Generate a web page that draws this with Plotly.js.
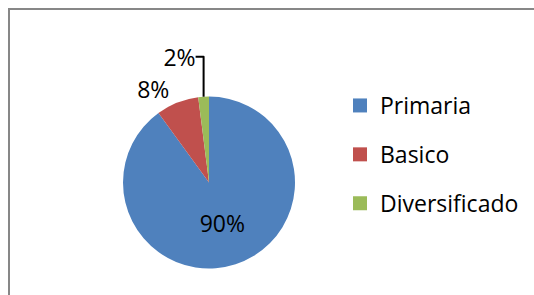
<!DOCTYPE html>
<html>
<head>
<meta charset="utf-8">
<script src="https://cdn.plot.ly/plotly-3.0.1.min.js"></script>
<style>html,body{margin:0;padding:0;background:#fff;}#chart{width:534px;height:295px;}</style>
</head>
<body>
<div id="chart"></div>
<script>
const categories = ["Primaria", "Basico", "Diversificado"];
const values = [90, 8, 2];
const colors = ["#4F81BD", "#C0504D", "#9BBB59"];
const textPositions = ["inside", "outside", "outside"];

const font = {family: "Open Sans, sans-serif", size: 23, color: "#000"};

const traces = [{
  type: "pie",
  labels: categories,
  values: values,
  sort: false,
  direction: "clockwise",
  rotation: 0,
  marker: {colors: colors, line: {width: 0}},
  textinfo: "percent",
  texttemplate: "%{percent:.0%}",
  textposition: textPositions,
  textfont: font,
  insidetextorientation: "horizontal",
  showlegend: false,
  hoverinfo: "label+percent",
  domain: {x: [123/534, 295/534], y: [0.0898, 0.6729]}
}];

categories.forEach((c, i) => {
  traces.push({
    type: "scatter",
    mode: "markers",
    x: [null], y: [null],
    name: c,
    legendgroup: "g" + i,
    marker: {symbol: "square", size: 14, color: colors[i]},
    showlegend: true,
    hoverinfo: "skip"
  });
});

const layout = {
  width: 534, height: 295,
  margin: {l: 0, r: 0, t: 0, b: 0},
  paper_bgcolor: "#fff",
  plot_bgcolor: "#fff",
  font: font,
  xaxis: {visible: false},
  yaxis: {visible: false},
  showlegend: true,
  legend: {
    x: 340/534, xanchor: "left",
    y: 1 - 84/295, yanchor: "top",
    font: font,
    tracegroupgap: 16,
    bgcolor: "rgba(0,0,0,0)"
  },
  shapes: [{
    type: "rect", xref: "paper", yref: "paper",
    x0: 9/534, x1: 1.05, y0: -0.05, y1: 1 - 9/295,
    line: {color: "#878787", width: 2}
  }]
};

Plotly.newPlot("chart", traces, layout, {displayModeBar: false, staticPlot: true});
</script>
</body>
</html>
